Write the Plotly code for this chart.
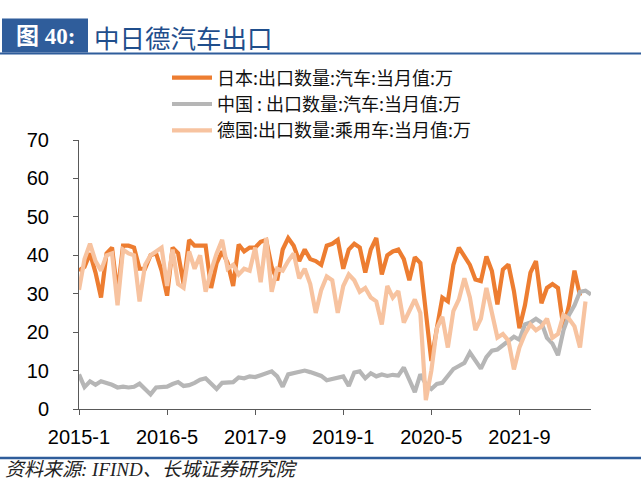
import plotly.graph_objects as go

# ---------------- data (万辆, monthly) ----------------
years = list(range(2015, 2023))
months = [f"{y}-{m}" for y in years for m in range(1, 13)][:94]   # 2015-1 .. 2022-10

japan = [36, 37, 40.5, 35.5, 29, 40.5, 42, 30, 42.5, 42.5, 42, 36.5,
         36.5, 40, 40.5, 36, 29.5, 42, 40.5, 32.5, 44, 42.5, 42.5, 42.5,
         31.5, 38, 41, 38, 32, 42.8, 41, 42, 42, 43.5, 44, 37,
         33.5, 41.5, 44.5, 42.5, 38.5, 41.5, 39, 38.5, 37.5, 42.5, 43, 44,
         36.5, 41.5, 43, 42, 35.5, 41.5, 44.5, 35, 40, 41, 41.5, 39,
         33.5, 39.5, 38, 24, 12.5, 21, 29, 28, 37.5, 42, 39.5, 37.5,
         33.7, 33.3, 39.7, 35.9, 27.2, 36.3, 37.6, 30.7, 21, 27, 35.5, 38.5,
         27.5, 31.5, 32.5, 31.5, 21, 27, 36, 29.5]

china = [9.0, 5.7, 7.2, 6.3, 7.2, 6.8, 6.3, 5.6, 5.8, 5.6, 5.8, 6.6,
         5.2, 3.8, 5.6, 5.7, 5.8, 6.5, 7.0, 6.0, 6.2, 6.8, 7.6, 8.0,
         6.5, 5.2, 6.8, 7.0, 7.0, 8.2, 8.0, 8.5, 8.3, 8.8, 9.2, 9.8,
         8.5, 5.8, 9.0, 9.4, 9.7, 10.0, 9.6, 9.2, 8.6, 7.5, 7.8, 8.3,
         8.5, 6.0, 9.5, 9.8, 8.0, 9.3, 8.5, 9.0, 8.6, 8.9, 8.7, 10.8,
         7.4, 4.4, 9.0, 6.5, 5.2, 6.5, 6.8, 8.5, 10.4, 11.2, 12.0, 14.7,
         12.5, 10.5, 13.5, 15.2, 15.5, 16.5, 17.8, 18.8, 18.0, 22.0, 22.5, 23.5,
         22.5, 18.5, 17.0, 14.0, 20.5, 24.5, 27.0, 30.5, 30.8, 29.8]

germany = [31, 39, 43, 38.5, 36, 40, 40.5, 27, 41.5, 40.5, 40, 28,
           37.5, 40, 41, 42, 32, 41.5, 32.5, 31.5, 41, 36.5, 40, 30.5,
           36, 40.5, 44, 36.5, 37.5, 35, 36.5, 36, 42, 33, 44.5, 30.5,
           36.5, 36, 38.5, 40.5, 34, 36.5, 32.5, 25, 31, 34.5, 33.5, 25,
           32, 35, 33.5, 30.5, 31.5, 29, 28, 22, 32, 29, 30.7, 22.5,
           25.5, 28.5, 25, 2.3, 10, 21, 24, 16, 25.5, 28.5, 34, 29,
           20.5, 23.5, 31.5, 25.5, 18.6, 19.5, 17.8, 10.3, 16, 19.5, 22, 20.5,
           21.5, 23.5, 18.5, 19.5, 24.5, 23.5, 21.5, 16, 28]

tick_labels = ["2015-1", "2016-5", "2017-9", "2019-1", "2020-5", "2021-9"]

names = ["日本:出口数量:汽车:当月值:万",
         "中国 : 出口数量:汽车:当月值:万",
         "德国:出口数量:乘用车:当月值:万"]
colors = ["#ED7D31", "#B6B6B6", "#F7C3A0"]

# ---------------- layout geometry (pixels) ----------------
W, H = 641, 502
L, R, T, B = 79, 591, 139.7, 409


def fx(px):
    return (px - L) / (R - L)


def fy(py):
    return (B - py) / (B - T)


fig = go.Figure()
for name, vals, col in zip(names, [japan, china, germany], colors):
    fig.add_trace(go.Scatter(x=months[:len(vals)], y=vals, name=name, mode="lines",
                             line=dict(color=col, width=4.2)))

CJK = "Noto Sans CJK SC, Microsoft YaHei, sans-serif"
BLUE = "#2F5D9B"
AX = "#595959"

fig.update_layout(
    width=W, height=H, autosize=False,
    margin=dict(l=L, r=W - R, t=T, b=H - B, pad=0),
    paper_bgcolor="white", plot_bgcolor="white",
    showlegend=True,
    legend=dict(x=fx(167), y=fy(59), xanchor="left", yanchor="top",
                font=dict(family=CJK, size=18, color="#111"),
                bgcolor="rgba(0,0,0,0)", tracegroupgap=0, itemwidth=40),
    xaxis=dict(type="category", categoryorder="array", categoryarray=months,
               range=[0, len(months) - 1],
               tickmode="array", tickvals=tick_labels, ticktext=tick_labels,
               ticks="outside", ticklen=5, tickcolor=AX,
               showline=True, linecolor=AX, linewidth=1,
               showgrid=False, zeroline=False,
               tickfont=dict(family="Liberation Sans, Arial", size=20, color="#000"),
               ticklabelstandoff=5),
    yaxis=dict(range=[0, 70], dtick=10, tick0=0,
               ticks="outside", ticklen=5, tickcolor=AX,
               showline=True, linecolor=AX, linewidth=1,
               showgrid=False, zeroline=False,
               tickfont=dict(family="Liberation Sans, Arial", size=20, color="#000"),
               ticklabelstandoff=20),
    shapes=[
        dict(type="rect", xref="paper", yref="paper", x0=fx(2), x1=fx(88),
             y0=fy(52), y1=fy(18), fillcolor=BLUE, line=dict(width=0), layer="below"),
        dict(type="line", xref="paper", yref="paper", x0=fx(0), x1=fx(641),
             y0=fy(53), y1=fy(53), line=dict(color=BLUE, width=2)),
        dict(type="line", xref="paper", yref="paper", x0=fx(0), x1=fx(641),
             y0=fy(458), y1=fy(458), line=dict(color=BLUE, width=2.5)),
    ],
    annotations=[
        dict(xref="paper", yref="paper", x=fx(45), y=fy(36), text="<b>图 40:</b>",
             showarrow=False, xanchor="center", yanchor="middle",
             font=dict(family="Liberation Serif, Noto Sans CJK SC", size=23, color="white")),
        dict(xref="paper", yref="paper", x=fx(92), y=fy(36), text="中日德汽车出口",
             showarrow=False, xanchor="left", yanchor="middle",
             font=dict(family=CJK, size=25.5, color="#1F4E8C")),
        dict(xref="paper", yref="paper", x=fx(3), y=fy(470),
             text="<i>资料来源: IFIND、长城证券研究院</i>",
             showarrow=False, xanchor="left", yanchor="middle",
             font=dict(family="Liberation Serif, Noto Sans CJK SC", size=19, color="#222")),
    ],
)

fig.write_html("out.html", config={"displayModeBar": False},
               post_script="document.body.style.margin='0px';")
